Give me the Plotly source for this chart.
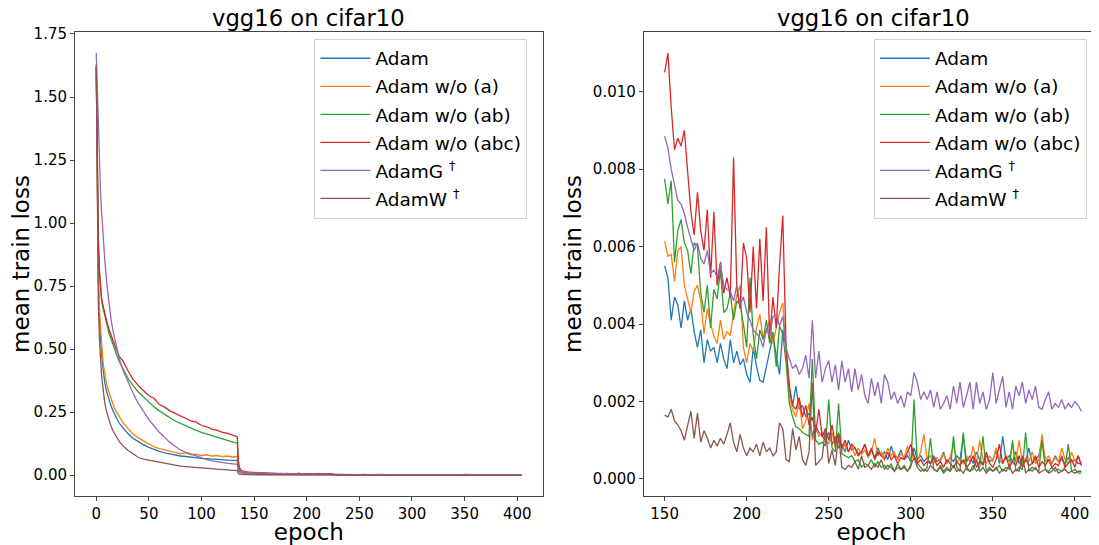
import plotly.graph_objects as go

# epochs: dense near the start, then every 2 epochs from 150 on
EPOCHS_EARLY = [0, 1, 2, 3, 4, 5, 6, 7, 8, 10, 12, 14, 16, 18, 20, 22, 25, 28, 30,
                35, 40, 45, 50, 55, 60, 65, 70, 75, 80, 85, 90, 95, 100, 105, 110,
                115, 120, 125, 130, 134, 135, 136, 138, 140, 142, 144, 146, 148]
EPOCHS_TAIL = list(range(150, 405, 2))

# mean train loss, epochs 0..148
ADAM_EARLY = [1.62, 1.0, 0.76, 0.62, 0.54, 0.48, 0.44, 0.40, 0.37, 0.33, 0.30, 0.275,
              0.255, 0.235, 0.22, 0.205, 0.19, 0.175, 0.165, 0.146, 0.132, 0.12, 0.11,
              0.101, 0.094, 0.088, 0.083, 0.08, 0.076, 0.074, 0.071, 0.069, 0.067,
              0.066, 0.064, 0.063, 0.061, 0.06, 0.059, 0.058, 0.02, 0.012, 0.008,
              0.007, 0.0065, 0.006, 0.0058, 0.0056]
ADAM_A_EARLY = [1.62, 1.05, 0.8, 0.66, 0.58, 0.52, 0.47, 0.43, 0.40, 0.36, 0.33, 0.30,
                0.28, 0.26, 0.245, 0.23, 0.21, 0.195, 0.185, 0.163, 0.148, 0.135, 0.122,
                0.112, 0.105, 0.099, 0.094, 0.09, 0.085, 0.088, 0.081, 0.083, 0.078,
                0.081, 0.076, 0.078, 0.074, 0.076, 0.072, 0.074, 0.025, 0.014, 0.009,
                0.008, 0.0073, 0.007, 0.0066, 0.0064]
ADAM_AB_EARLY = [1.62, 1.2, 0.95, 0.82, 0.75, 0.70, 0.67, 0.65, 0.63, 0.60, 0.565, 0.54,
                 0.515, 0.49, 0.47, 0.45, 0.425, 0.40, 0.385, 0.355, 0.33, 0.31, 0.29,
                 0.27, 0.255, 0.24, 0.228, 0.215, 0.205, 0.195, 0.186, 0.178, 0.17,
                 0.163, 0.156, 0.149, 0.143, 0.137, 0.131, 0.127, 0.04, 0.02, 0.012,
                 0.0105, 0.0095, 0.009, 0.0085, 0.008]
ADAM_ABC_EARLY = [1.63, 1.15, 0.92, 0.80, 0.74, 0.70, 0.68, 0.66, 0.645, 0.61, 0.58, 0.555,
                  0.535, 0.51, 0.49, 0.47, 0.455, 0.43, 0.415, 0.38, 0.355, 0.335, 0.315,
                  0.305, 0.28, 0.27, 0.255, 0.245, 0.235, 0.228, 0.215, 0.21, 0.197,
                  0.192, 0.183, 0.178, 0.17, 0.166, 0.158, 0.153, 0.06, 0.03, 0.018,
                  0.015, 0.013, 0.012, 0.0115, 0.011]
ADAMG_EARLY = [1.675, 1.52, 1.36, 1.23, 1.13, 1.05, 0.98, 0.92, 0.86, 0.76, 0.68, 0.62,
               0.57, 0.53, 0.49, 0.46, 0.42, 0.39, 0.37, 0.325, 0.285, 0.25, 0.22, 0.195,
               0.17, 0.15, 0.13, 0.115, 0.10, 0.091, 0.083, 0.075, 0.068, 0.062, 0.057,
               0.053, 0.05, 0.047, 0.045, 0.043, 0.02, 0.014, 0.0115, 0.0105, 0.01,
               0.0096, 0.0093, 0.009]
ADAMW_EARLY = [1.62, 0.95, 0.68, 0.54, 0.46, 0.40, 0.36, 0.32, 0.29, 0.25, 0.22, 0.195,
               0.175, 0.16, 0.145, 0.133, 0.118, 0.106, 0.099, 0.085, 0.07, 0.064, 0.06,
               0.055, 0.05, 0.046, 0.042, 0.039, 0.036, 0.034, 0.032, 0.03, 0.028, 0.026,
               0.024, 0.022, 0.021, 0.02, 0.019, 0.018, 0.006, 0.0035, 0.0025, 0.0021,
               0.002, 0.0019, 0.0018, 0.0017]

# mean train loss x 1e-3, epochs 150..404 step 2
ADAM_TAIL_MILLI = [
    5.5, 5.2, 4.1, 4.7, 4.5, 3.9, 4.6, 4.1, 4.4, 3.8,
    3.4, 3.85, 3.0, 3.6, 3.3, 3.4, 3.0, 3.5, 3.1, 2.85,
    3.6, 3.0, 3.3, 2.95, 3.1, 2.7, 2.5, 3.4, 2.9, 2.55,
    2.5, 2.9, 3.3, 3.7, 3.2, 2.7, 3.85, 3.4, 2.3, 1.9,
    2.4, 1.8, 1.9, 1.6, 1.7, 1.1, 1.4, 1.2, 1.1, 1.0,
    1.2, 0.9, 1.1, 0.8, 0.9, 0.7, 1.0, 0.75, 0.8, 0.65,
    0.7, 0.9, 0.6, 0.75, 0.55, 0.8, 0.6, 0.7, 0.5, 0.85,
    0.6, 0.55, 0.75, 0.5, 0.6, 0.45, 0.8, 0.5, 0.6, 0.45,
    0.55, 0.4, 0.6, 0.45, 0.5, 0.7, 0.4, 0.55, 0.45, 0.6,
    0.5, 1.1, 0.45, 0.6, 0.4, 0.7, 0.5, 0.4, 0.6, 0.45,
    0.5, 0.75, 0.4, 1.1, 0.5, 0.6, 0.45, 0.7, 0.4, 0.55,
    0.45, 0.8, 0.4, 0.5, 0.6, 1.0, 0.45, 0.5, 0.4, 0.6,
    0.45, 0.5, 0.4, 0.55, 0.45, 0.5, 0.4, 0.4]
ADAM_A_TAIL_MILLI = [
    6.15, 5.75, 5.8, 5.1, 5.9, 6.0, 5.0, 4.65, 4.3, 4.85,
    5.0, 4.6, 3.75, 4.4, 4.0, 3.7, 3.5, 4.1, 3.6, 3.8,
    3.7, 4.3, 4.75, 5.0, 3.4, 3.0, 3.5, 3.3, 3.9, 4.25,
    3.6, 3.8, 4.1, 3.5, 3.9, 4.3, 4.55, 3.3, 2.1, 1.8,
    1.6, 2.05, 1.3, 1.5, 1.95, 1.0, 1.3, 1.1, 1.2, 1.0,
    0.9, 1.2, 0.8, 1.0, 0.75, 0.9, 0.7, 0.85, 0.6, 0.8,
    0.65, 0.75, 0.55, 0.7, 1.05, 0.6, 0.7, 0.55, 0.8, 0.6,
    0.7, 0.5, 0.65, 0.55, 0.85, 0.5, 0.6, 0.45, 0.7, 1.15,
    0.5, 0.6, 0.4, 0.55, 0.45, 0.65, 0.4, 0.55, 0.9, 0.45,
    0.5, 0.4, 0.6, 0.45, 0.85, 0.4, 1.0, 0.5, 0.4, 0.6,
    0.45, 0.8, 0.5, 0.4, 0.6, 0.45, 0.9, 0.45, 1.0, 0.4,
    0.55, 0.45, 0.7, 0.4, 0.5, 1.15, 0.45, 0.6, 0.4, 0.55,
    0.45, 0.8, 0.5, 0.4, 0.7, 0.45, 0.6, 0.35]
ADAM_AB_TAIL_MILLI = [
    7.75, 7.1, 7.7, 5.6, 6.4, 6.7, 6.1, 5.9, 5.3, 6.1,
    6.0, 4.8, 4.3, 5.0, 3.9, 4.9, 4.65, 5.4, 4.3, 4.4,
    4.8, 4.1, 4.6, 4.5, 4.0, 3.4, 5.2, 3.7, 3.1, 3.85,
    3.6, 4.1, 3.5, 3.8, 2.9, 3.95, 3.75, 3.0, 1.95, 1.6,
    1.35, 1.3, 1.2, 1.15, 1.1, 3.1, 1.0, 0.9, 0.95, 0.85,
    2.05, 0.8, 0.7, 1.95, 0.65, 0.6, 0.55, 0.6, 0.45, 0.5,
    0.3, 0.4, 0.35, 0.5, 0.3, 0.45, 0.3, 0.35, 0.25, 0.4,
    0.2, 0.3, 0.25, 0.35, 0.2, 0.3, 2.05, 0.4, 0.3, 0.2,
    0.3, 1.05, 0.25, 0.2, 0.35, 0.2, 0.3, 0.2, 1.1, 0.3,
    0.2, 1.2, 0.25, 0.2, 0.35, 0.2, 0.3, 1.1, 0.2, 0.3,
    0.2, 0.25, 0.35, 0.2, 0.3, 0.25, 1.0, 0.2, 0.3, 0.25,
    1.2, 0.2, 0.3, 0.25, 0.2, 1.0, 0.25, 0.2, 0.3, 0.2,
    0.25, 0.2, 0.3, 0.9, 0.2, 0.25, 0.15, 0.15]
ADAM_ABC_TAIL_MILLI = [
    10.5, 11.0, 9.6, 8.5, 8.8, 8.6, 9.0, 8.0, 6.9, 6.3,
    7.4, 6.4, 5.9, 6.95, 5.2, 6.9, 5.0, 5.6, 4.8, 5.2,
    4.7, 8.3, 4.9, 4.4, 6.1, 5.7, 4.3, 6.0, 4.4, 6.2,
    4.6, 6.5, 3.6, 4.7, 3.9, 5.5, 6.8, 3.4, 2.4, 1.9,
    1.8, 2.1, 1.6, 1.9, 1.4, 1.6, 1.2, 1.8, 1.1, 1.3,
    1.0, 1.4, 0.9, 1.2, 0.8, 1.0, 0.7, 0.9, 0.8, 0.6,
    0.7, 0.9, 0.6, 0.8, 0.5, 0.7, 0.6, 0.5, 0.7, 0.5,
    0.6, 0.4, 0.55, 0.5, 0.7, 0.9, 0.6, 0.4, 0.5, 0.35,
    0.45, 0.4, 0.55, 0.35, 0.45, 0.3, 0.5, 0.4, 0.3, 0.45,
    0.35, 0.5, 0.3, 0.4, 0.6, 0.3, 0.45, 0.35, 0.7, 0.4,
    0.3, 0.5, 0.9, 0.4, 0.6, 0.3, 0.45, 0.35, 0.6, 0.3,
    0.5, 0.35, 0.4, 0.6, 0.3, 0.45, 0.35, 0.5, 0.3, 0.4,
    0.35, 0.6, 0.3, 0.4, 0.5, 0.3, 0.6, 0.35]
ADAMG_TAIL_MILLI = [
    8.85, 8.55, 8.0, 7.55, 7.2, 7.1, 6.85, 6.5, 6.2, 5.9,
    6.1, 5.7, 5.55, 5.9, 5.3, 5.4, 5.2, 5.55, 5.0, 4.9,
    4.85, 4.6, 5.0, 4.5, 4.7, 4.3, 4.1, 3.85, 3.75, 3.65,
    3.4, 3.9, 3.7, 4.2, 4.25, 3.95, 4.2, 3.4, 3.1, 2.85,
    2.95, 2.7, 2.85, 3.2, 2.6, 4.1, 2.6, 3.3, 2.5, 2.85,
    3.05, 2.5, 2.95, 2.3, 3.05, 2.5, 2.85, 2.25, 2.85, 2.3,
    2.7, 2.15, 1.95, 2.6, 2.15, 2.5, 1.95, 2.7, 2.5, 2.05,
    2.25, 1.95, 2.15, 1.85, 2.25, 2.15, 2.75, 2.5, 2.05, 2.25,
    2.05, 2.3, 1.85, 2.25, 1.8, 1.95, 2.15, 1.8, 2.4, 1.95,
    2.5, 1.85, 2.15, 2.5, 1.8, 2.5, 1.95, 2.25, 1.8, 2.05,
    2.75, 1.95, 2.3, 2.65, 1.85, 2.25, 1.8, 2.4, 2.15, 2.5,
    1.95, 2.3, 2.05, 2.4, 1.85, 1.8, 2.05, 2.25, 1.8, 1.95,
    1.85, 2.05, 1.8, 1.95, 1.85, 2.0, 1.9, 1.75]
ADAMW_TAIL_MILLI = [
    1.65, 1.6, 1.8, 1.5, 1.4, 1.25, 1.0, 1.35, 1.75, 1.05,
    1.7, 0.95, 1.25, 1.05, 0.8, 1.0, 0.85, 1.05, 0.9, 1.15,
    1.45, 0.95, 0.7, 1.15, 0.8, 0.6, 0.8, 0.7, 0.9, 0.6,
    0.95, 0.7, 0.8, 0.6, 0.7, 1.45, 1.3, 0.5, 0.45, 1.3,
    0.75, 1.1, 0.5, 0.35, 0.7, 2.5, 0.35, 0.45, 0.55, 1.3,
    0.4, 0.75, 0.35, 1.15, 0.3, 0.25, 0.35, 0.3, 0.45, 0.25,
    0.6, 0.3, 0.35, 0.25, 0.4, 0.3, 0.5, 0.25, 0.35, 0.3,
    0.2, 0.4, 0.25, 0.3, 0.2, 0.35, 0.55, 0.3, 0.2, 0.25,
    0.2, 0.35, 0.25, 0.2, 0.3, 0.15, 0.25, 0.2, 0.35, 0.2,
    0.25, 0.15, 0.3, 0.2, 0.25, 0.5, 0.2, 0.3, 0.15, 0.25,
    0.2, 0.3, 0.15, 0.25, 0.2, 0.35, 0.15, 0.25, 0.2, 0.6,
    0.15, 0.25, 0.2, 0.3, 0.15, 0.2, 0.25, 0.15, 0.2, 0.3,
    0.15, 0.2, 0.25, 0.15, 0.2, 0.15, 0.2, 0.2]

SERIES = [
    ("Adam", "#1f77b4", ADAM_EARLY, ADAM_TAIL_MILLI),
    ("Adam w/o (a)", "#ff7f0e", ADAM_A_EARLY, ADAM_A_TAIL_MILLI),
    ("Adam w/o (ab)", "#2ca02c", ADAM_AB_EARLY, ADAM_AB_TAIL_MILLI),
    ("Adam w/o (abc)", "#d62728", ADAM_ABC_EARLY, ADAM_ABC_TAIL_MILLI),
    ("AdamG <sup>†</sup>", "#9467bd", ADAMG_EARLY, ADAMG_TAIL_MILLI),
    ("AdamW <sup>†</sup>", "#8c564b", ADAMW_EARLY, ADAMW_TAIL_MILLI),
]

# the page body adds an 8px margin, so the figure is drawn 8px smaller and
# every position below is given in window pixels, then shifted by OFF
OFF = 8
W, H = 1099 - OFF, 545 - OFF
FONT = "DejaVu Sans"
AXCOL = "#444444"


def px(x):
    return (x - OFF) / W


def py(y):
    return (H - (y - OFF)) / H


fig = go.Figure()

for name, color, early, tail_milli in SERIES:
    tail = [v / 1000 for v in tail_milli]
    fig.add_trace(go.Scatter(
        x=EPOCHS_EARLY + EPOCHS_TAIL, y=early + tail,
        mode="lines", line=dict(color=color, width=1.3),
        name=name, legendgroup=name, legend="legend",
        xaxis="x", yaxis="y",
    ))
for name, color, early, tail_milli in SERIES:
    tail = [v / 1000 for v in tail_milli]
    fig.add_trace(go.Scatter(
        x=EPOCHS_TAIL, y=tail,
        mode="lines", line=dict(color=color, width=1.3),
        name=name, legendgroup=name, legend="legend2",
        xaxis="x2", yaxis="y2",
    ))

axis_common = dict(
    showline=True, mirror=True, linecolor=AXCOL, linewidth=1,
    ticks="outside", ticklen=4, tickwidth=1, tickcolor=AXCOL,
    showgrid=False, zeroline=False, automargin=False,
    tickfont=dict(family=FONT, size=15, color="black"),
    title_font=dict(family=FONT, size=23, color="black"),
)

x_left = [px(75), px(542.7)]
x_right = [px(643.8), 1.0]
y_dom = [py(496.3), py(31.7)]

legend_common = dict(
    y=py(38.7), xanchor="left", yanchor="top",
    bgcolor="rgba(255,255,255,0.8)", bordercolor="#d0d0d0", borderwidth=1,
    font=dict(family=FONT, size=18.5, color="black"),
    itemwidth=50, tracegroupgap=1, traceorder="grouped",
)

fig.update_layout(
    width=W, height=H,
    margin=dict(l=0, r=0, t=0, b=0),
    paper_bgcolor="white", plot_bgcolor="white",
    font=dict(family=FONT, color="black"),
    xaxis=dict(domain=x_left, range=[-20.2, 424.2], tickvals=list(range(0, 401, 50)),
               anchor="y", title=dict(text="epoch", standoff=3), **axis_common),
    yaxis=dict(domain=y_dom, range=[-0.0838, 1.759], tickvals=[0, 0.25, 0.5, 0.75, 1.0, 1.25, 1.5, 1.75],
               tickformat=".2f", anchor="x", title=dict(text="mean train loss", standoff=4), **axis_common),
    xaxis2=dict(domain=x_right, range=[137.3, 414.7], tickvals=list(range(150, 401, 50)),
                anchor="y2", title=dict(text="epoch", standoff=3), **axis_common),
    yaxis2=dict(domain=y_dom, range=[-0.000447, 0.01155], tickvals=[0, 0.002, 0.004, 0.006, 0.008, 0.010],
                tickformat=".3f", anchor="x2", title=dict(text="mean train loss", standoff=4), **axis_common),
    legend=dict(x=px(314.4), **legend_common),
    legend2=dict(x=px(873.9), **legend_common),
)

for cx in ((75 + 542.7) / 2, (643.8 + 1103.4) / 2):
    fig.add_annotation(
        text="vgg16 on cifar10", xref="paper", yref="paper",
        x=px(cx), y=y_dom[1], xanchor="center", yanchor="bottom", yshift=-1,
        showarrow=False, font=dict(family=FONT, size=22.7, color="black"),
    )

fig.write_html("out.html")
